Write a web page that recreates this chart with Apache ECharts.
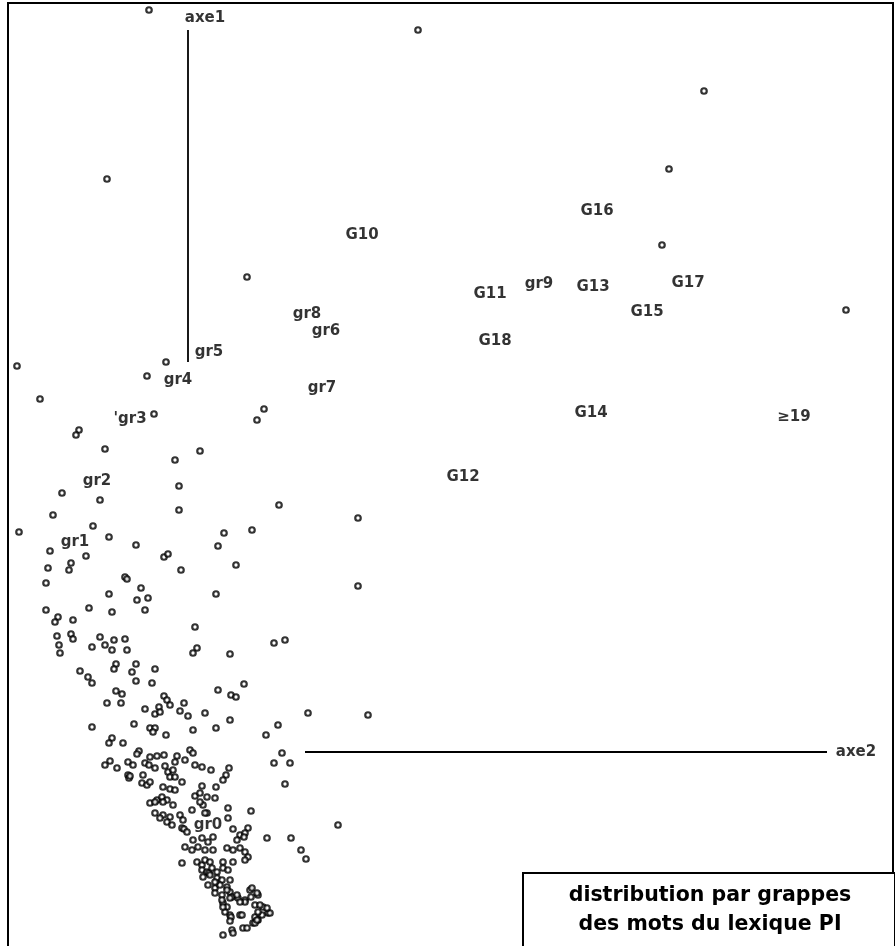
<!DOCTYPE html>
<html>
<head>
<meta charset="utf-8">
<script src="https://cdn.jsdelivr.net/npm/echarts@6/dist/echarts.min.js"></script>
<style>
html,body{margin:0;padding:0;background:#fff;}
#chart{width:895px;height:946px;}
</style>
</head>
<body>
<div id="chart"></div>
<script>
// Coordinates (plane units: x to the right, y downward)
const upperPoints = [[149,10],[418,30],[704,91],[107,179],[669,169],[662,245],[247,277],[846,310]];

const middlePoints = [[17,366],[40,399],[166,362],[147,376],[154,414],[79,430],[76,435],[105,449],[264,409],[257,420],
[200,451],[175,460],[179,486],[62,493],[100,500],[179,510],[279,505],[358,518],[53,515],[93,526],[19,532],[109,537],
[224,533],[252,530],[136,545],[218,546],[50,551],[86,556],[164,557],[168,554],[48,568],[71,563],[69,570],[236,565],
[181,570],[358,586],[46,583],[125,577],[127,579],[109,594],[141,588],[137,600],[148,598],[216,594],[46,610],[89,608],
[112,612],[145,610],[58,617],[55,622],[73,620],[195,627],[57,636],[71,634],[73,639],[100,637],[92,647],[105,645],
[114,640],[112,650],[125,639],[127,650],[59,645],[60,653],[197,648],[193,653],[230,654],[274,643],[285,640],[116,664],
[114,669],[136,664],[132,672],[155,669],[80,671],[88,677],[92,683],[136,681],[152,683],[244,684],[218,690]];

const lowerPoints = [[116,691],[122,694],[231,695],[236,697],[107,703],[121,703],[164,696],[167,700],[170,705],[184,703],
[145,709],[159,707],[155,714],[160,712],[180,711],[188,716],[205,713],[230,720],[308,713],[368,715],[92,727],[134,724],
[150,728],[155,728],[153,732],[166,735],[193,730],[216,728],[266,735],[278,725],[112,738],[109,743],[123,743],[139,751],
[137,754],[150,757],[157,756],[164,755],[177,756],[175,762],[185,760],[190,750],[193,753],[110,761],[105,765],[117,768],
[128,762],[133,765],[145,763],[149,765],[155,768],[165,766],[168,772],[173,770],[170,777],[175,777],[195,765],[202,767],
[211,770],[229,768],[226,775],[223,780],[274,763],[290,763],[282,753],[128,775],[129,778],[130,776],[143,775],[142,783],
[147,785],[150,782],[182,782],[202,786],[216,787],[285,784],[163,787],[170,789],[175,790],[150,803],[157,800],[162,797],
[167,800],[195,796],[200,793],[207,797],[215,798],[228,808],[251,811],[203,805],[192,810],[207,813]];

const bottomPoints = [[155,802],[163,802],[173,805],[200,802],[205,813],[228,818],[155,813],[163,815],[170,817],[180,815],
[183,820],[160,818],[167,822],[172,825],[182,828],[184,829],[187,832],[233,829],[248,828],[240,835],[245,833],[244,837],
[237,840],[267,838],[291,838],[338,825],[193,840],[202,838],[208,842],[213,837],[185,847],[192,850],[198,847],[205,850],
[213,850],[227,848],[233,850],[240,848],[245,852],[248,857],[245,860],[301,850],[306,859],[182,863],[197,862],[202,865],
[205,860],[210,862],[223,862],[233,862],[202,870],[207,872],[209,873],[212,868],[217,872],[223,868],[228,870],[203,877],
[210,875],[217,878],[222,880],[230,880],[208,885],[215,888],[220,885],[227,887],[215,893],[222,895],[230,892],[232,897],
[238,898],[245,900],[250,890],[258,895],[223,903],[227,907],[230,915],[231,917],[225,912],[230,921],[240,915],[255,905],
[263,907],[268,913],[255,917],[262,915],[253,923],[258,920],[223,935],[232,930],[233,933],[243,928],[247,928],[270,913],
[257,893],[252,888],[251,897],[242,915],[255,923],[215,882],[227,890],[230,898],[237,895],[245,902],[240,902],[222,900],
[223,907],[267,908],[260,905],[258,912],[257,920]];

const groupNames = ['gr0','gr1','gr2',"'gr3",'gr4','gr5','gr6','gr7','gr8','gr9','G10','G11','G12','G13','G14','G15','G16','G17','G18','\u226519'];
const groupX = [208,75,97,130,178,209,326,322,307,539,362,490,463,593,591,647,597,688,495,794];
const groupY = [825,542,481,419,380,352,331,388,314,284,235,294,477,287,413,312,211,283,341,417];

const axisNames = ['axe1','axe2'];
const axisNameX = [205,856];
const axisNameY = [18,752];
const axe1Line = [[188,30],[188,362]];
const axe2Line = [[305,752],[827,752]];

const titleLines = ['distribution par grappes','des mots du lexique PI'];

const allPoints = upperPoints.concat(middlePoints, lowerPoints, bottomPoints);

const chart = echarts.init(document.getElementById('chart'), null, {renderer:'canvas'});
const labelFont = {color:'#000', fontFamily:'DejaVu Sans', fontWeight:'bold', fontSize:15};

chart.setOption({
  animation:false,
  backgroundColor:'#fff',
  grid:{left:8, top:3, right:2, bottom:0, show:false},
  xAxis:{type:'value', min:8, max:893, show:false},
  yAxis:{type:'value', min:3, max:946, inverse:true, show:false},
  series:[
    {type:'line', data:axe1Line, symbol:'none', lineStyle:{color:'#000', width:1.8}, z:2},
    {type:'line', data:axe2Line, symbol:'none', lineStyle:{color:'#000', width:1.8}, z:2},
    {type:'scatter', data:allPoints, symbol:'circle', symbolSize:5.5,
     itemStyle:{color:'#fff', borderColor:'#000', borderWidth:2.2}, z:3},
    {type:'scatter', z:5, symbolSize:1, itemStyle:{color:'rgba(0,0,0,0)'},
     data:groupNames.map((n,i)=>({name:n, value:[groupX[i], groupY[i]]})),
     label:Object.assign({show:true, position:'inside', formatter:'{b}'}, labelFont)},
    {type:'scatter', z:5, symbolSize:1, itemStyle:{color:'rgba(0,0,0,0)'},
     data:axisNames.map((n,i)=>({name:n, value:[axisNameX[i], axisNameY[i]]})),
     label:Object.assign({show:true, position:'inside', formatter:'{b}'}, labelFont)}
  ],
  graphic:[
    {type:'polyline', shape:{points:[[8,960],[8,3],[893,3],[893,960]]}, style:{fill:null, stroke:'#000', lineWidth:2}, z:1},
    {type:'rect', shape:{x:523, y:873, width:372, height:90}, style:{fill:'#fff', stroke:'#000', lineWidth:2}, z:10},
    {type:'text', x:710, y:896, style:{text:titleLines[0], fill:'#000', font:'bold 20.5px "DejaVu Sans"', textAlign:'center', textVerticalAlign:'middle'}, z:11},
    {type:'text', x:710, y:925, style:{text:titleLines[1], fill:'#000', font:'bold 20.5px "DejaVu Sans"', textAlign:'center', textVerticalAlign:'middle'}, z:11}
  ]
});
</script>
</body>
</html>
